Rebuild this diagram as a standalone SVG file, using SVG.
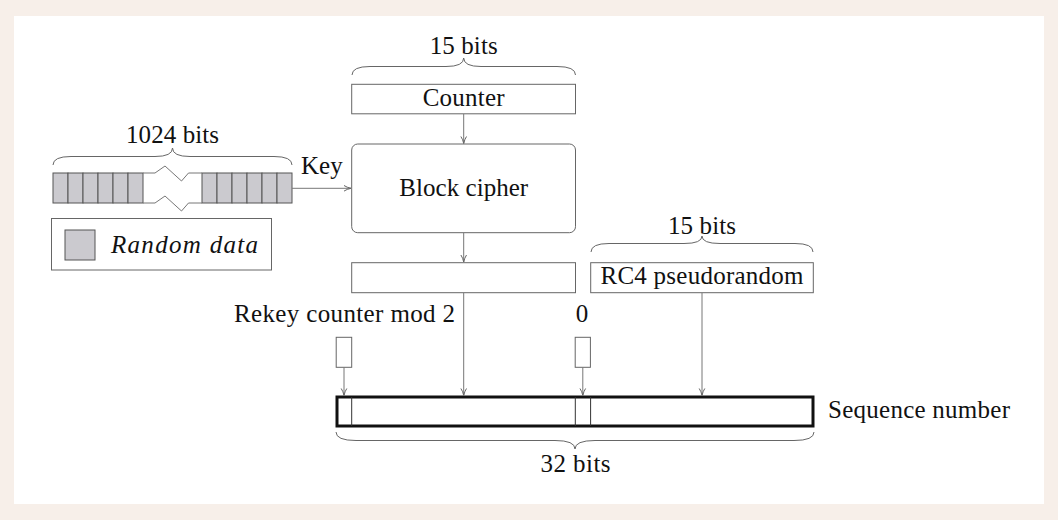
<svg xmlns="http://www.w3.org/2000/svg" width="1058" height="520" viewBox="0 0 1058 520">
<defs>
<marker id="arr" markerWidth="10" markerHeight="8" viewBox="0 0 10 8" refX="9" refY="4" orient="auto" markerUnits="userSpaceOnUse">
<path d="M2,1.2 Q5,3.2 9,4 Q5,4.8 2,6.8" fill="none" stroke="#666" stroke-width="1"/>
</marker>
<style>
text{font-family:"Liberation Serif","Times New Roman",serif;font-size:25px;fill:#111}
.box{fill:#fff;stroke:#666;stroke-width:1}
.cell{fill:#cbcacf;stroke:#555;stroke-width:1}
.brace{fill:none;stroke:#666;stroke-width:1}
.conn{fill:none;stroke:#777;stroke-width:1;marker-end:url(#arr)}
.line{fill:none;stroke:#777;stroke-width:1}
</style>
</defs>
<rect x="0" y="0" width="1058" height="520" fill="#f7efe9"/>
<rect x="14" y="16" width="1030" height="488" fill="#ffffff"/>

<g id="key-bits">
<rect class="cell" x="53" y="173" width="15" height="30"/>
<rect class="cell" x="68" y="173" width="15" height="30"/>
<rect class="cell" x="83" y="173" width="15" height="30"/>
<rect class="cell" x="98" y="173" width="15" height="30"/>
<rect class="cell" x="113" y="173" width="15" height="30"/>
<rect class="cell" x="128" y="173" width="15" height="30"/>
<rect class="cell" x="202" y="173" width="15" height="30"/>
<rect class="cell" x="217" y="173" width="15" height="30"/>
<rect class="cell" x="232" y="173" width="15" height="30"/>
<rect class="cell" x="247" y="173" width="15" height="30"/>
<rect class="cell" x="262" y="173" width="15" height="30"/>
<rect class="cell" x="277" y="173" width="15" height="30"/>
<path class="line" d="M143,173 L155,173 L165,166 L181.5,181 L188.5,173 L202,173" stroke="#555"/>
<path class="line" d="M143,203 L155,203 L165,196 L181.5,211 L188.5,203 L202,203" stroke="#555"/>
<path class="brace" d="M53,165 Q53,156.5 71,156.5 L155,156.5 Q172.5,156.5 172.5,148 Q172.5,156.5 190,156.5 L274,156.5 Q292,156.5 292,165"/>
<text x="172.5" y="143" text-anchor="middle" textLength="93">1024 bits</text>
<text x="301" y="173.5">Key</text>
</g>

<g id="legend">
<rect class="box" x="51.5" y="218.5" width="220" height="51.5"/>
<rect class="cell" x="65" y="230" width="30" height="30"/>
<text x="111" y="253" font-style="italic" textLength="147">Random data</text>
</g>

<g id="counter">
<path class="brace" d="M352,75 Q352,66.5 370,66.5 L446,66.5 Q463.7,66.5 463.7,58 Q463.7,66.5 481,66.5 L557,66.5 Q575.5,66.5 575.5,75"/>
<text x="463.7" y="54" text-anchor="middle" textLength="68">15 bits</text>
<rect class="box" x="351.7" y="84.3" width="223.8" height="29.5"/>
<text x="463.7" y="106" text-anchor="middle" textLength="82">Counter</text>
</g>

<g id="block-cipher">
<rect class="box" x="351.7" y="144" width="223.8" height="88.7" rx="6" ry="6"/>
<text x="463.7" y="195.5" text-anchor="middle" font-size="27" textLength="129">Block cipher</text>
</g>

<g id="cipher-output">
<rect class="box" x="351.7" y="262.7" width="223.8" height="30"/>
</g>

<g id="rc4">
<path class="brace" d="M591,252 Q591,243.5 609,243.5 L684,243.5 Q702,243.5 702,236 Q702,243.5 720,243.5 L795,243.5 Q813,243.5 813,252"/>
<text x="702" y="234" text-anchor="middle" textLength="68">15 bits</text>
<rect class="box" x="590.7" y="262.7" width="222.6" height="30"/>
<text x="702" y="284" text-anchor="middle" textLength="203">RC4 pseudorandom</text>
</g>

<g id="rekey">
<text x="455" y="322" text-anchor="end" textLength="221">Rekey counter mod 2</text>
<rect class="box" x="336.2" y="337.3" width="15.5" height="30"/>
</g>

<g id="zero">
<text x="582" y="322" text-anchor="middle">0</text>
<rect class="box" x="575.2" y="337.3" width="15.2" height="30"/>
</g>

<g id="sequence-number">
<rect x="337" y="397" width="476" height="29" fill="#fff" stroke="#111" stroke-width="3"/>
<line x1="351.7" y1="397" x2="351.7" y2="426" stroke="#333" stroke-width="1"/>
<line x1="575.3" y1="397" x2="575.3" y2="426" stroke="#333" stroke-width="1"/>
<line x1="590.6" y1="397" x2="590.6" y2="426" stroke="#333" stroke-width="1"/>
<text x="828" y="418" textLength="182">Sequence number</text>
<path class="brace" d="M336,432 Q336,440.5 356,440.5 L555,440.5 Q575,440.5 575,449 Q575,440.5 595,440.5 L794,440.5 Q814,440.5 814,432"/>
<text x="575.5" y="471.5" text-anchor="middle" textLength="70">32 bits</text>
</g>

<g id="connectors">
<path class="conn" d="M463.7,114 L463.7,143.5"/>
<path class="conn" d="M292,188.3 L351,188.3"/>
<path class="conn" d="M463.7,233 L463.7,262"/>
<path class="conn" d="M463.7,293 L463.7,395.5"/>
<path class="conn" d="M702,293 L702,395.5"/>
<path class="conn" d="M344,367.3 L344,395.5"/>
<path class="conn" d="M582.8,367.3 L582.8,395.5"/>
</g>
</svg>
